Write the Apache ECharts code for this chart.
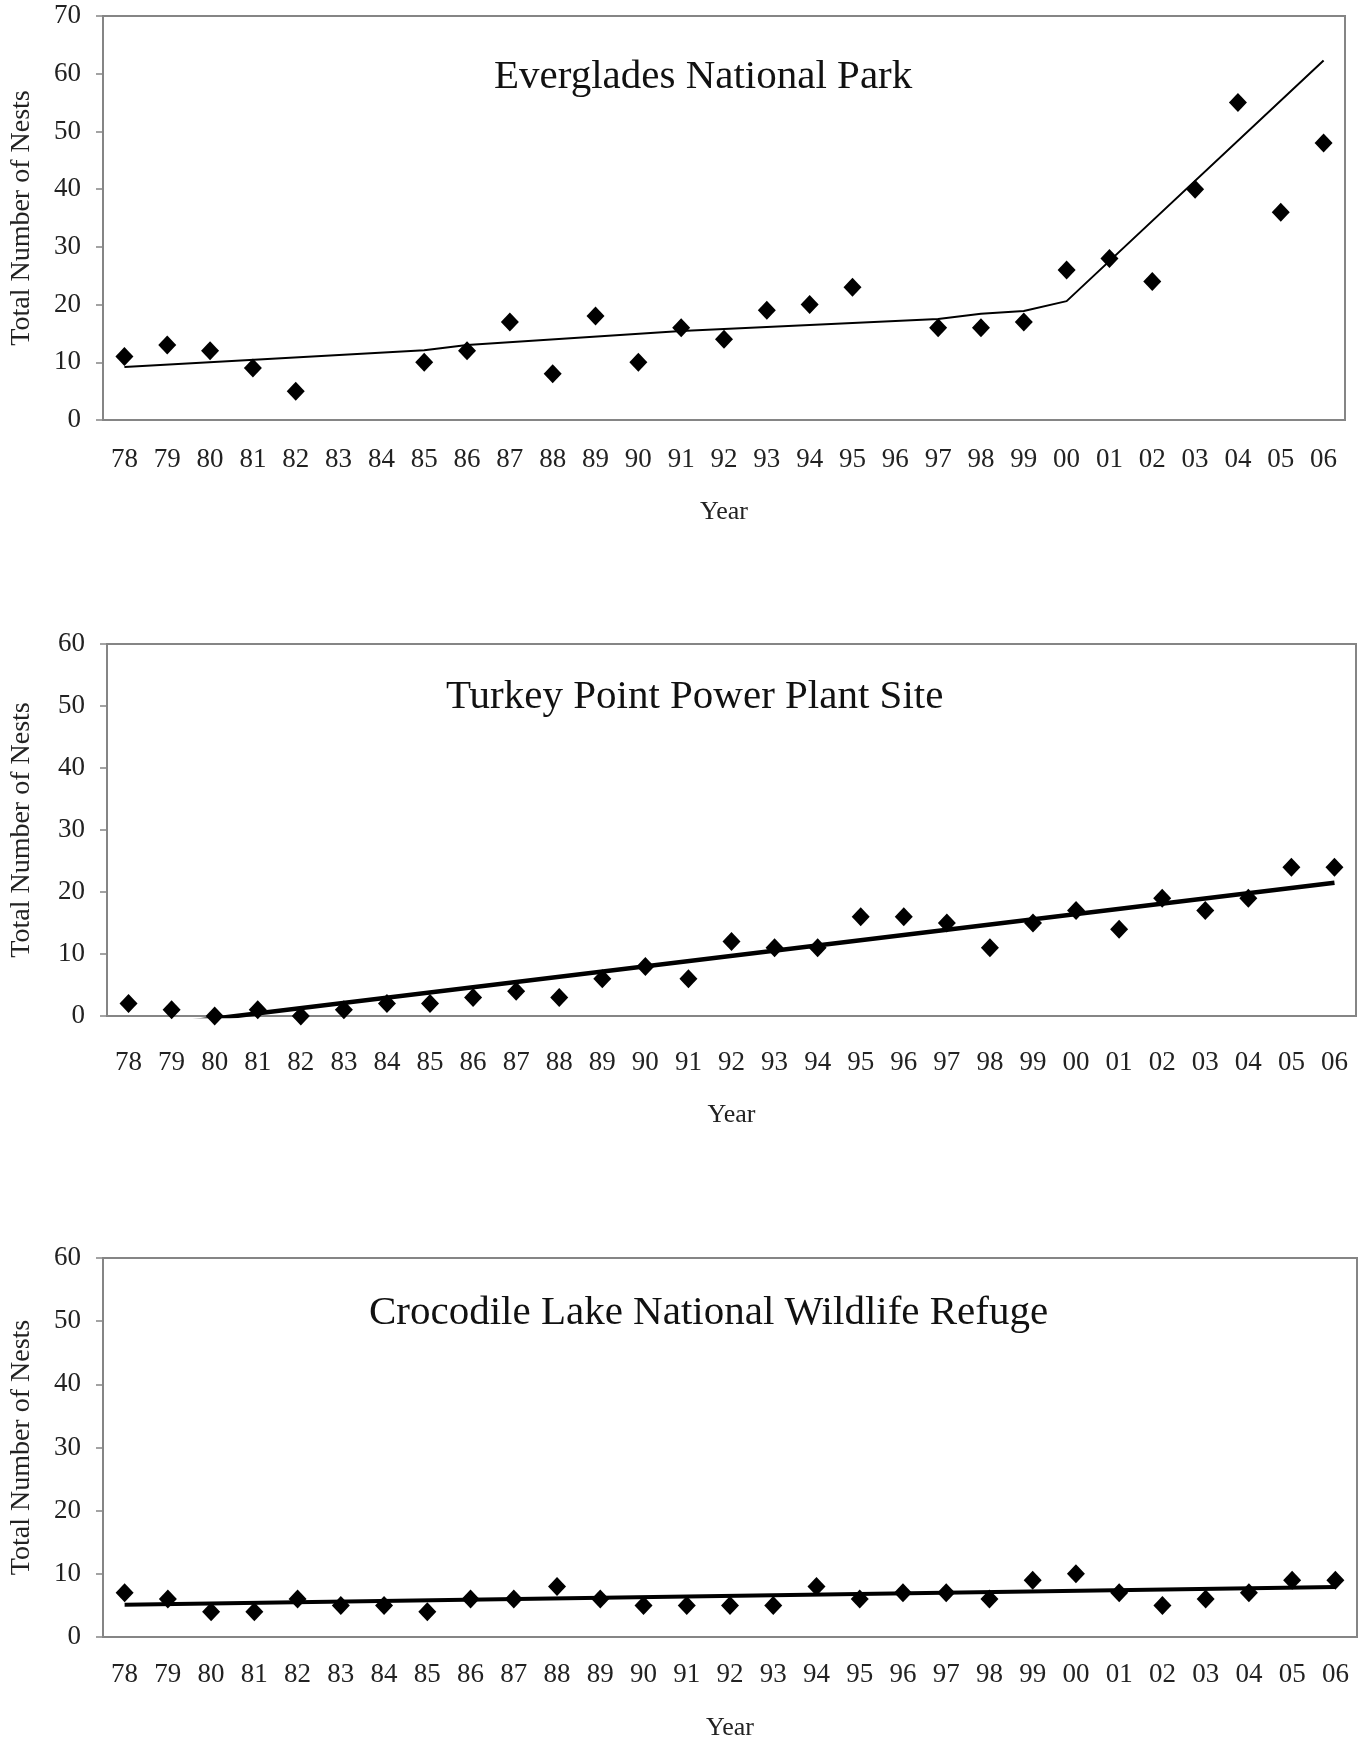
<!DOCTYPE html>
<html>
<head>
<meta charset="utf-8">
<title>Total Number of Nests</title>
<script src="https://cdn.jsdelivr.net/npm/echarts@6/dist/echarts.min.js"></script>
<style>
    html, body { margin: 0; padding: 0; background: #fff; }
    #chart { width: 1359px; height: 1742px; }
</style>
</head>
<body>
<div id="chart"></div>
<script>
// 年份 (78 - 06)
var years = ['78', '79', '80', '81', '82', '83', '84', '85', '86', '87', '88', '89', '90', '91', '92',
    '93', '94', '95', '96', '97', '98', '99', '00', '01', '02', '03', '04', '05', '06'];

// Everglades National Park
var evergladesNests = [11, 13, 12, 9, 5, null, null, 10, 12, 17, 8, 18, 10, 16, 14,
    19, 20, 23, null, 16, 16, 17, 26, 28, 24, 40, 55, 36, 48];
var evergladesTrend = [9.2, null, null, null, null, null, null, 12.1, 13.0, null, null, null, null, 15.4, null,
    null, null, null, null, 17.5, 18.4, 18.9, 20.6, null, null, null, null, null, 62.3];

// Turkey Point Power Plant Site
var turkeyNests = [2, 1, 0, 1, 0, 1, 2, 2, 3, 4, 3, 6, 8, 6, 12,
    11, 11, 16, 16, 15, 11, 15, 17, 14, 19, 17, 19, 24, 24];
var turkeyTrend = [-2.1, null, null, null, null, null, null, null, null, null, null, null, null, null, null,
    null, null, null, null, null, null, null, null, null, null, null, null, null, 21.5];

// Crocodile Lake National Wildlife Refuge
var crocNests = [7, 6, 4, 4, 6, 5, 5, 4, 6, 6, 8, 6, 5, 5, 5,
    5, 8, 6, 7, 7, 6, 9, 10, 7, 5, 6, 7, 9, 9];
var crocTrend = [5.1, null, null, null, null, null, null, null, null, null, null, null, null, null, null,
    null, null, null, null, null, null, null, null, null, null, null, null, null, 7.9];

var titles = ['Everglades National Park', 'Turkey Point Power Plant Site', 'Crocodile Lake National Wildlife Refuge'];
var yMax = [70, 60, 60];

var FONT = 'Liberation Serif';
var AXIS_COLOR = '#858585';
var TEXT_COLOR = '#222';

// 各图布局
var panels = [
    { left: 98, top: 16, width: 1247, height: 404, titleLeft: 494, titleTop: 55, labelMargin: 26, nameGap: 79, yNameGap: 67, lineWidth: 2, nests: evergladesNests, trend: evergladesTrend },
    { left: 102, top: 644, width: 1254, height: 372, titleLeft: 446, titleTop: 675, labelMargin: 33, nameGap: 86, yNameGap: 71, lineWidth: 4.5, nests: turkeyNests, trend: turkeyTrend },
    { left: 99, top: 1258, width: 1258, height: 381, titleLeft: 369, titleTop: 1291, labelMargin: 24, nameGap: 78, yNameGap: 67, lineWidth: 4, nests: crocNests, trend: crocTrend }
];

var oOption = {
    backgroundColor: '#fff',
    animation: false,
    title: [],
    grid: [],
    xAxis: [],
    yAxis: [],
    series: []
};

panels.forEach(function (p, i) {
    oOption.title.push({
        text: titles[i],
        left: p.titleLeft,
        top: p.titleTop,
        padding: 0,
        textStyle: { fontFamily: FONT, fontSize: 41, fontWeight: 'normal', color: '#111', lineHeight: 44 }
    });
    oOption.grid.push({
        left: p.left, top: p.top, width: p.width, height: p.height,
        show: true, borderColor: AXIS_COLOR, borderWidth: 2, backgroundColor: '#fff'
    });
    oOption.xAxis.push({
        type: 'category',
        gridIndex: i,
        data: years,
        boundaryGap: true,
        name: 'Year',
        nameLocation: 'middle',
        nameGap: p.nameGap,
        nameTextStyle: { fontFamily: FONT, fontSize: 26, color: TEXT_COLOR },
        axisLine: { lineStyle: { color: AXIS_COLOR, width: 2 } },
        axisTick: { length: 8, lineStyle: { color: AXIS_COLOR, width: 1.5 } },
        axisLabel: { interval: 0, margin: p.labelMargin, fontFamily: FONT, fontSize: 27, color: TEXT_COLOR },
        splitLine: { show: false }
    });
    oOption.yAxis.push({
        type: 'value',
        gridIndex: i,
        min: 0,
        max: yMax[i],
        interval: 10,
        name: 'Total Number of Nests',
        nameLocation: 'middle',
        nameGap: p.yNameGap,
        nameTextStyle: { fontFamily: FONT, fontSize: 28, color: TEXT_COLOR },
        axisLine: { show: true, lineStyle: { color: AXIS_COLOR, width: 2 } },
        axisTick: { show: true, length: 7, lineStyle: { color: AXIS_COLOR, width: 1.5 } },
        axisLabel: { margin: 22, fontFamily: FONT, fontSize: 27, color: TEXT_COLOR },
        splitLine: { show: false }
    });
    // 趋势线
    oOption.series.push({
        type: 'line',
        xAxisIndex: i,
        yAxisIndex: i,
        data: p.trend,
        connectNulls: true,
        showSymbol: false,
        symbol: 'none',
        clip: true,
        lineStyle: { color: '#000', width: p.lineWidth },
        z: 2
    });
    // 巢数
    oOption.series.push({
        type: 'scatter',
        xAxisIndex: i,
        yAxisIndex: i,
        data: p.nests,
        symbol: 'diamond',
        symbolSize: [18, 19],
        clip: false,
        itemStyle: { color: '#000', opacity: 1 },
        z: 3
    });
});

var oChart = echarts.init(document.getElementById('chart'), null, { renderer: 'canvas' });
oChart.setOption(oOption, true);
</script>
</body>
</html>
